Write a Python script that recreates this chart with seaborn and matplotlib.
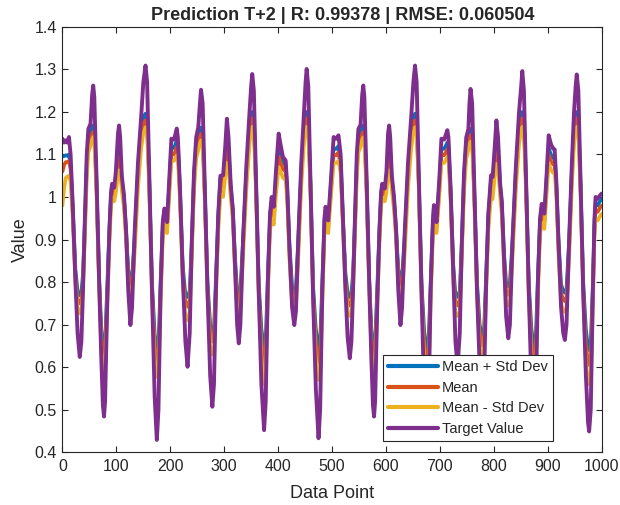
import matplotlib
matplotlib.use("Agg")
import matplotlib.pyplot as plt
import seaborn as sns

# knot positions (data point index)
data_point = [
    0, 3, 6, 9, 12, 15, 19, 24, 28, 32, 35, 38, 42, 45, 48, 52, 55, 57, 59, 63,
    68, 72, 75, 77, 79, 83, 87, 90, 92, 96, 99, 103, 105, 107, 110, 114, 118, 122, 126, 129,
    134, 140, 146, 150, 154, 157, 161, 166, 171, 175, 178, 182, 186, 189, 194, 198, 202, 207, 212, 214,
    218, 223, 228, 232, 236, 240, 244, 248, 252, 255, 257, 260, 264, 269, 274, 278, 281, 285, 289, 293,
    298, 302, 305, 308, 312, 316, 320, 324, 327, 330, 335, 341, 347, 350, 352, 355, 359, 364, 369, 374,
    377, 381, 385, 388, 392, 396, 401, 405, 409, 414, 417, 421, 426, 430, 433, 438, 443, 448, 451, 453,
    456, 460, 465, 470, 475, 478, 482, 486, 488, 493, 498, 503, 508, 512, 516, 520, 525, 529, 533, 536,
    539, 543, 546, 549, 553, 556, 558, 560, 564, 569, 573, 576, 578, 580, 584, 588, 591, 593, 598, 601,
    604, 606, 608, 611, 615, 619, 623, 627, 630, 635, 641, 647, 651, 654, 657, 661, 666, 671, 676, 679,
    683, 687, 689, 694, 699, 703, 708, 714, 716, 720, 725, 729, 733, 737, 741, 745, 749, 753, 755, 757,
    760, 764, 769, 774, 779, 782, 786, 790, 795, 798, 802, 805, 808, 812, 815, 819, 823, 827, 830, 835,
    841, 847, 851, 853, 856, 860, 865, 870, 875, 878, 882, 886, 889, 894, 898, 902, 906, 910, 913, 916,
    920, 925, 929, 932, 935, 940, 945, 949, 952, 954, 957, 961, 966, 971, 975, 977, 980, 984, 987, 989,
    993, 996, 1000,
]

target = [
    1.137, 1.128, 1.133, 1.128, 1.141, 1.100, 0.980, 0.800, 0.680, 0.624, 0.660, 0.780, 0.970, 1.100, 1.160, 1.172, 1.240, 1.262, 1.235, 1.050,
    0.800, 0.620, 0.510, 0.484, 0.520, 0.750, 0.920, 1.010, 1.031, 1.022, 1.060, 1.150, 1.168, 1.140, 1.050, 1.005, 0.920, 0.780, 0.699, 0.740,
    0.920, 1.080, 1.190, 1.270, 1.309, 1.270, 1.050, 0.780, 0.530, 0.429, 0.500, 0.780, 0.940, 0.973, 0.941, 1.040, 1.137, 1.135, 1.161, 1.140,
    1.020, 0.820, 0.660, 0.601, 0.680, 0.900, 1.060, 1.140, 1.165, 1.220, 1.252, 1.220, 1.020, 0.780, 0.580, 0.507, 0.560, 0.800, 0.960, 1.050,
    1.051, 1.120, 1.184, 1.140, 1.030, 0.970, 0.840, 0.700, 0.656, 0.700, 0.900, 1.070, 1.200, 1.260, 1.289, 1.250, 1.040, 0.780, 0.560, 0.452,
    0.520, 0.800, 0.960, 1.000, 0.977, 1.060, 1.149, 1.120, 1.094, 1.086, 1.020, 0.880, 0.740, 0.699, 0.730, 0.920, 1.080, 1.200, 1.270, 1.301,
    1.260, 1.040, 0.760, 0.550, 0.433, 0.500, 0.780, 0.950, 0.977, 0.945, 1.040, 1.141, 1.137, 1.145, 1.100, 0.960, 0.780, 0.670, 0.621, 0.660,
    0.780, 0.970, 1.100, 1.160, 1.170, 1.240, 1.262, 1.235, 1.050, 0.800, 0.620, 0.510, 0.484, 0.520, 0.750, 0.920, 1.010, 1.031, 1.020, 1.060,
    1.150, 1.168, 1.140, 1.050, 1.000, 0.920, 0.780, 0.699, 0.740, 0.920, 1.080, 1.190, 1.270, 1.309, 1.270, 1.050, 0.780, 0.540, 0.440, 0.500,
    0.780, 0.940, 0.981, 0.941, 1.040, 1.137, 1.135, 1.157, 1.140, 1.020, 0.820, 0.660, 0.601, 0.680, 0.900, 1.060, 1.140, 1.160, 1.220, 1.254,
    1.220, 1.020, 0.780, 0.600, 0.500, 0.560, 0.800, 0.960, 1.051, 1.047, 1.120, 1.180, 1.140, 1.030, 0.990, 0.860, 0.720, 0.668, 0.700, 0.900,
    1.070, 1.200, 1.260, 1.296, 1.250, 1.040, 0.780, 0.560, 0.450, 0.520, 0.800, 0.950, 0.984, 0.961, 1.050, 1.145, 1.125, 1.114, 1.112, 1.040,
    0.900, 0.740, 0.680, 0.664, 0.700, 0.900, 1.080, 1.200, 1.260, 1.288, 1.250, 1.040, 0.780, 0.580, 0.470, 0.449, 0.500, 0.780, 0.950, 1.000,
    0.996, 1.002, 1.008,
]

mean_plus_std = [
    1.095, 1.096, 1.098, 1.097, 1.100, 1.075, 0.975, 0.830, 0.780, 0.769, 0.775, 0.820, 0.960, 1.080, 1.140, 1.150, 1.162, 1.168, 1.160, 1.040,
    0.810, 0.690, 0.650, 0.644, 0.655, 0.790, 0.925, 1.005, 1.027, 1.018, 1.045, 1.100, 1.110, 1.100, 1.040, 1.000, 0.920, 0.830, 0.800, 0.810,
    0.910, 1.060, 1.150, 1.185, 1.196, 1.180, 1.040, 0.800, 0.680, 0.636, 0.650, 0.800, 0.935, 0.970, 0.940, 1.030, 1.117, 1.115, 1.133, 1.125,
    1.015, 0.840, 0.770, 0.765, 0.780, 0.900, 1.050, 1.120, 1.140, 1.155, 1.163, 1.150, 1.015, 0.800, 0.700, 0.680, 0.690, 0.820, 0.955, 1.045,
    1.040, 1.095, 1.128, 1.110, 1.025, 0.970, 0.860, 0.780, 0.765, 0.780, 0.900, 1.055, 1.160, 1.190, 1.200, 1.185, 1.035, 0.800, 0.690, 0.645,
    0.665, 0.815, 0.955, 0.990, 0.970, 1.045, 1.115, 1.095, 1.080, 1.075, 1.015, 0.890, 0.790, 0.775, 0.785, 0.915, 1.065, 1.160, 1.190, 1.200,
    1.185, 1.035, 0.790, 0.690, 0.645, 0.660, 0.800, 0.945, 0.970, 0.940, 1.030, 1.115, 1.113, 1.120, 1.085, 0.960, 0.820, 0.775, 0.765, 0.775,
    0.820, 0.960, 1.080, 1.140, 1.148, 1.162, 1.168, 1.160, 1.040, 0.810, 0.690, 0.650, 0.645, 0.655, 0.790, 0.925, 1.005, 1.027, 1.018, 1.045,
    1.100, 1.110, 1.100, 1.040, 0.995, 0.920, 0.830, 0.805, 0.815, 0.910, 1.060, 1.150, 1.185, 1.196, 1.180, 1.040, 0.800, 0.685, 0.640, 0.655,
    0.800, 0.935, 0.975, 0.940, 1.030, 1.115, 1.113, 1.128, 1.122, 1.015, 0.840, 0.770, 0.765, 0.780, 0.900, 1.050, 1.120, 1.140, 1.152, 1.160,
    1.150, 1.015, 0.800, 0.700, 0.670, 0.685, 0.820, 0.955, 1.040, 1.035, 1.095, 1.125, 1.108, 1.025, 0.985, 0.870, 0.800, 0.790, 0.800, 0.900,
    1.055, 1.160, 1.190, 1.200, 1.185, 1.035, 0.800, 0.690, 0.645, 0.665, 0.815, 0.945, 0.975, 0.955, 1.040, 1.115, 1.100, 1.092, 1.090, 1.035,
    0.905, 0.795, 0.778, 0.775, 0.785, 0.900, 1.065, 1.160, 1.190, 1.200, 1.185, 1.035, 0.800, 0.690, 0.645, 0.640, 0.655, 0.800, 0.945, 0.985,
    0.980, 0.988, 0.995,
]

mean = [
    1.060, 1.075, 1.082, 1.082, 1.085, 1.065, 0.965, 0.815, 0.760, 0.750, 0.755, 0.800, 0.945, 1.065, 1.125, 1.135, 1.148, 1.153, 1.145, 1.030,
    0.800, 0.670, 0.630, 0.624, 0.632, 0.770, 0.910, 0.995, 1.016, 1.005, 1.030, 1.085, 1.094, 1.085, 1.030, 0.990, 0.910, 0.815, 0.790, 0.798,
    0.895, 1.045, 1.135, 1.170, 1.180, 1.165, 1.030, 0.785, 0.650, 0.605, 0.620, 0.780, 0.920, 0.955, 0.930, 1.015, 1.100, 1.100, 1.117, 1.110,
    1.005, 0.825, 0.750, 0.742, 0.760, 0.885, 1.035, 1.105, 1.125, 1.140, 1.148, 1.135, 1.005, 0.785, 0.680, 0.660, 0.668, 0.800, 0.940, 1.030,
    1.025, 1.078, 1.110, 1.095, 1.015, 0.960, 0.845, 0.762, 0.745, 0.760, 0.885, 1.040, 1.145, 1.175, 1.185, 1.170, 1.025, 0.785, 0.660, 0.605,
    0.625, 0.795, 0.940, 0.970, 0.955, 1.030, 1.095, 1.080, 1.065, 1.060, 1.005, 0.875, 0.770, 0.755, 0.765, 0.900, 1.050, 1.145, 1.175, 1.185,
    1.170, 1.025, 0.775, 0.660, 0.610, 0.625, 0.780, 0.930, 0.955, 0.930, 1.015, 1.100, 1.098, 1.105, 1.072, 0.950, 0.805, 0.755, 0.745, 0.755,
    0.800, 0.945, 1.065, 1.125, 1.133, 1.148, 1.153, 1.145, 1.030, 0.800, 0.670, 0.630, 0.620, 0.632, 0.770, 0.910, 0.995, 1.016, 1.005, 1.030,
    1.085, 1.094, 1.085, 1.030, 0.985, 0.910, 0.815, 0.789, 0.798, 0.895, 1.045, 1.135, 1.170, 1.180, 1.165, 1.030, 0.785, 0.655, 0.610, 0.622,
    0.780, 0.920, 0.960, 0.930, 1.015, 1.100, 1.098, 1.112, 1.106, 1.005, 0.825, 0.750, 0.745, 0.760, 0.885, 1.035, 1.105, 1.125, 1.138, 1.145,
    1.135, 1.005, 0.785, 0.680, 0.650, 0.663, 0.800, 0.940, 1.025, 1.020, 1.078, 1.105, 1.092, 1.015, 0.975, 0.855, 0.780, 0.770, 0.780, 0.885,
    1.040, 1.145, 1.175, 1.185, 1.170, 1.025, 0.785, 0.660, 0.610, 0.628, 0.795, 0.930, 0.960, 0.940, 1.025, 1.100, 1.085, 1.077, 1.075, 1.025,
    0.890, 0.775, 0.758, 0.755, 0.765, 0.885, 1.050, 1.145, 1.175, 1.185, 1.170, 1.025, 0.785, 0.655, 0.610, 0.605, 0.618, 0.780, 0.930, 0.970,
    0.965, 0.972, 0.980,
]

mean_minus_std = [
    0.980, 1.020, 1.045, 1.048, 1.050, 1.035, 0.950, 0.800, 0.740, 0.726, 0.730, 0.780, 0.925, 1.045, 1.105, 1.120, 1.135, 1.141, 1.130, 1.010,
    0.780, 0.640, 0.595, 0.585, 0.592, 0.740, 0.890, 0.975, 1.000, 0.990, 1.010, 1.055, 1.063, 1.058, 1.015, 0.975, 0.895, 0.795, 0.770, 0.775,
    0.870, 1.020, 1.115, 1.150, 1.164, 1.150, 1.015, 0.765, 0.620, 0.577, 0.590, 0.750, 0.900, 0.940, 0.915, 1.000, 1.085, 1.085, 1.098, 1.092,
    0.990, 0.805, 0.720, 0.710, 0.730, 0.865, 1.015, 1.090, 1.110, 1.125, 1.133, 1.120, 0.990, 0.765, 0.650, 0.630, 0.638, 0.775, 0.920, 1.005,
    1.000, 1.050, 1.080, 1.070, 1.000, 0.945, 0.825, 0.738, 0.720, 0.735, 0.860, 1.015, 1.125, 1.155, 1.165, 1.150, 1.010, 0.765, 0.625, 0.560,
    0.580, 0.765, 0.920, 0.950, 0.935, 1.005, 1.070, 1.058, 1.045, 1.040, 0.990, 0.855, 0.745, 0.730, 0.740, 0.875, 1.025, 1.125, 1.155, 1.165,
    1.150, 1.010, 0.755, 0.620, 0.570, 0.585, 0.750, 0.910, 0.940, 0.915, 1.000, 1.080, 1.080, 1.085, 1.055, 0.935, 0.785, 0.730, 0.720, 0.728,
    0.778, 0.925, 1.045, 1.105, 1.118, 1.135, 1.140, 1.130, 1.010, 0.780, 0.640, 0.595, 0.585, 0.592, 0.740, 0.890, 0.975, 1.000, 0.990, 1.010,
    1.055, 1.063, 1.058, 1.015, 0.970, 0.895, 0.795, 0.765, 0.772, 0.870, 1.020, 1.115, 1.150, 1.164, 1.150, 1.015, 0.765, 0.620, 0.580, 0.590,
    0.750, 0.900, 0.945, 0.915, 1.000, 1.080, 1.080, 1.095, 1.090, 0.990, 0.805, 0.725, 0.720, 0.732, 0.865, 1.015, 1.090, 1.110, 1.123, 1.130,
    1.120, 0.990, 0.765, 0.650, 0.620, 0.633, 0.775, 0.920, 1.000, 0.995, 1.050, 1.078, 1.068, 1.000, 0.960, 0.835, 0.755, 0.745, 0.755, 0.860,
    1.015, 1.125, 1.155, 1.165, 1.150, 1.010, 0.765, 0.625, 0.575, 0.590, 0.765, 0.910, 0.940, 0.925, 1.005, 1.080, 1.065, 1.057, 1.055, 1.010,
    0.870, 0.750, 0.733, 0.730, 0.740, 0.860, 1.025, 1.125, 1.155, 1.165, 1.150, 1.010, 0.765, 0.615, 0.565, 0.560, 0.572, 0.750, 0.910, 0.950,
    0.945, 0.952, 0.960,
]

sns.set_style("white")
plt.rcParams['font.family'] = ['Liberation Sans', 'DejaVu Sans']

fig = plt.figure(figsize=(6.2, 5.05), dpi=100)
ax = fig.add_axes([0.1008, 0.1044, 0.8694, 0.8425])

sns.lineplot(x=data_point, y=mean_plus_std, color='#0072BD', lw=2.6, label='Mean + Std Dev', ax=ax)
sns.lineplot(x=data_point, y=mean, color='#D95319', lw=2.6, label='Mean', ax=ax)
sns.lineplot(x=data_point, y=mean_minus_std, color='#EDB120', lw=2.6, label='Mean - Std Dev', ax=ax)
sns.lineplot(x=data_point, y=target, color='#7E2F8E', lw=2.8, label='Target Value', ax=ax)

ax.set_xlim(0, 1000)
ax.set_ylim(0.4, 1.4)
ax.set_xticks(range(0, 1001, 100))
yt = [0.4, 0.5, 0.6, 0.7, 0.8, 0.9, 1.0, 1.1, 1.2, 1.3, 1.4]
ax.set_yticks(yt)
ax.set_yticklabels(['0.4', '0.5', '0.6', '0.7', '0.8', '0.9', '1', '1.1', '1.2', '1.3', '1.4'])
ax.tick_params(direction='in', length=4, width=0.8, colors='#262626', labelsize=11.5,
               top=True, right=True, bottom=True, left=True, pad=4)
ax.tick_params(axis='x', pad=5)
for s in ax.spines.values():
    s.set_color('#262626')
    s.set_linewidth(0.8)

ax.set_title('Prediction T+2 | R: 0.99378 | RMSE: 0.060504', fontsize=13, fontweight='bold',
             pad=5, x=0.52)
ax.set_xlabel('Data Point', fontsize=13, color='#262626', labelpad=8)
ax.set_ylabel('Value', fontsize=13, color='#262626', labelpad=4)

leg = ax.legend(loc='lower right', bbox_to_anchor=(0.91, 0.0266), borderaxespad=0,
                fontsize=10.5, handlelength=3.4, handletextpad=0.3, labelspacing=0.45,
                frameon=True, fancybox=False, framealpha=1, edgecolor='#262626',
                borderpad=0.35)
leg.get_frame().set_linewidth(0.8)
for line in leg.get_lines():
    line.set_linewidth(3)

fig.savefig('out.png', dpi=100)
